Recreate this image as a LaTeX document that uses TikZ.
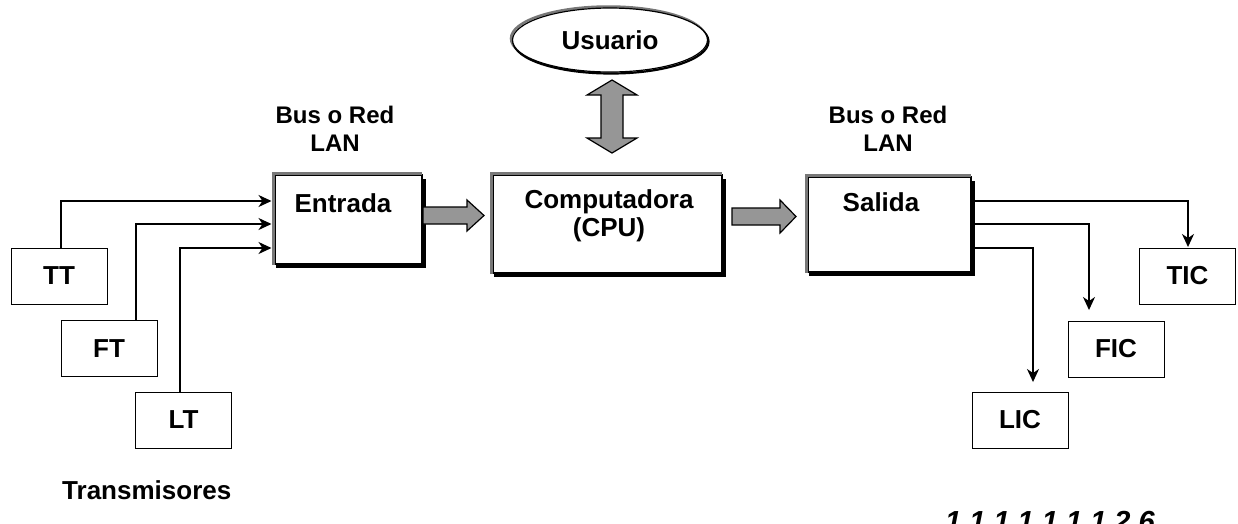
\documentclass[tikz,border=0pt]{standalone}
\usepackage{fontspec}
\setmainfont{Liberation Sans}
\usetikzlibrary{arrows.meta,calc,shapes.geometric}

\definecolor{bevelgray}{RGB}{120,120,120}
\definecolor{fatgray}{RGB}{150,150,150}

\tikzset{
  txt/.style={font=\bfseries\fontsize{26}{28}\selectfont, inner sep=0pt},
  bustxt/.style={font=\bfseries\fontsize{24}{28}\selectfont, inner sep=0pt, align=center},
  bigbox/.style={draw=black, line width=1.4pt, fill=white, outer sep=0pt, inner sep=0pt},
  smallbox/.style={draw=black, line width=1pt, fill=white, outer sep=0pt, inner sep=0pt,
    minimum width=96pt, minimum height=56pt, font=\bfseries\fontsize{26}{28}\selectfont},
  bevelhi/.style={draw=bevelgray, line width=3pt},
  bevello/.style={draw=black, line width=3.5pt},
  fat/.style={draw=black, line width=1.2pt, fill=fatgray, line join=miter},
  conn/.style={draw=black, line width=1.4pt, -{Stealth[length=13pt,width=12pt,inset=4pt]}},
}

% raised frame: grey edge top/left, dark edge bottom/right
\newcommand\bevelframe[1]{%
  \draw[bevelhi] ([xshift=-2pt,yshift=-1pt]#1.south west) -- ([xshift=-2pt,yshift=2pt]#1.north west)
    -- ([yshift=2pt]#1.north east);
  \draw[bevello] ([xshift=1pt,yshift=-2.2pt]#1.south west) -- ([xshift=2.2pt,yshift=-2.2pt]#1.south east)
    -- ([xshift=2.2pt,yshift=-4pt]#1.north east);
}

\begin{document}
\begin{tikzpicture}[x=1pt,y=-1pt]
\useasboundingbox (0,0) rectangle (1238,523);
\clip (0,0) rectangle (1238,523);

% user
\draw[bevelgray, line width=2.5pt] (608.5,38.5) ellipse [x radius=97.5pt, y radius=32pt];
\draw[black, line width=2.2pt] (611,41.5) ellipse [x radius=97.5pt, y radius=32pt];
\node[ellipse, draw=black, line width=1.2pt, fill=white, minimum width=195pt, minimum height=64pt,
      inner sep=0pt, outer sep=0pt, txt] (usuario) at (610,40) {Usuario};

% main blocks
\node[bigbox, minimum width=147pt, minimum height=89pt,
      label={[txt, xshift=-5.5pt, yshift=16.5pt]center:Entrada}] (entrada) at (348.5,219.5) {};
\bevelframe{entrada}
\node[bigbox, minimum width=229pt, minimum height=98pt,
      label={[txt, align=center, xshift=1.5pt, yshift=8pt]center:Computadora\\(CPU)}] (cpu) at (607.5,224) {};
\bevelframe{cpu}
\node[bigbox, minimum width=163pt, minimum height=95pt,
      label={[txt, xshift=-8.5pt, yshift=22.5pt]center:Salida}] (salida) at (889.5,224.5) {};
\bevelframe{salida}

% transmitters and controllers
\node[smallbox] (tt) at (59,276) {TT};
\node[smallbox] (ft) at (109,348.5) {FT};
\node[smallbox] (lt) at (183.5,420) {LT};
\node[smallbox] (tic) at (1187.5,276) {TIC};
\node[smallbox] (fic) at (1116,349) {FIC};
\node[smallbox] (lic) at (1020,420) {LIC};

% labels
\node[bustxt] (busin) at (335,129) {Bus o Red\\LAN};
\node[bustxt] (busout) at (888,129) {Bus o Red\\LAN};
\node[txt, anchor=west] (trans) at (62,490) {Transmisores};
\node[font=\bfseries\itshape\fontsize{29}{30}\selectfont, inner sep=0pt, anchor=base west]
  (pagenum) at (945,531) {1 1 1 1 1 1 1 2 6};

% block arrows
\draw[fat] let \p1=(entrada.east), \p2=(cpu.west) in
  (\x1+1pt,-207pt) -- (\x2-26pt,-207pt) -- (\x2-26pt,-200pt) -- (\x2-9pt,-215.5pt)
  -- (\x2-26pt,-231pt) -- (\x2-26pt,-224pt) -- (\x1+1pt,-224pt) -- cycle;
\draw[fat] let \p1=(cpu.east), \p2=(salida.west) in
  (\x1+10pt,-208pt) -- (\x2-28pt,-208pt) -- (\x2-28pt,-200pt) -- (\x2-12pt,-216.5pt)
  -- (\x2-28pt,-233pt) -- (\x2-28pt,-225pt) -- (\x1+10pt,-225pt) -- cycle;
\draw[fat] let \p1=(usuario.south), \p2=(cpu.north) in
  (\x1+2pt,\y1-8pt) -- (\x1+27pt,\y1-23pt) -- (\x1+13pt,\y1-23pt) -- (\x1+13pt,\y2+37pt)
  -- (\x1+27pt,\y2+37pt) -- (\x1+2pt,\y2+22pt) -- (\x1-23pt,\y2+37pt) -- (\x1-9pt,\y2+37pt)
  -- (\x1-9pt,\y1-23pt) -- (\x1-23pt,\y1-23pt) -- cycle;

% signal lines
\draw[conn] ([xshift=2pt]tt.north) |- ([xshift=-3.5pt,yshift=18.5pt]entrada.west);
\draw[conn] ([xshift=27pt]ft.north) |- ([xshift=-3.5pt,yshift=-4.5pt]entrada.west);
\draw[conn] ([xshift=-3.5pt]lt.north) |- ([xshift=-3.5pt,yshift=-28.5pt]entrada.west);
\draw[conn, shorten >=1pt] ([xshift=3.5pt,yshift=23.5pt]salida.east) -| ([xshift=0.5pt]tic.north);
\draw[conn, shorten >=11pt] ([xshift=3.5pt,yshift=0.5pt]salida.east) -| ([xshift=-27pt]fic.north);
\draw[conn, shorten >=10pt] ([xshift=3.5pt,yshift=-23.5pt]salida.east) -| ([xshift=13pt]lic.north);
\end{tikzpicture}
\end{document}
